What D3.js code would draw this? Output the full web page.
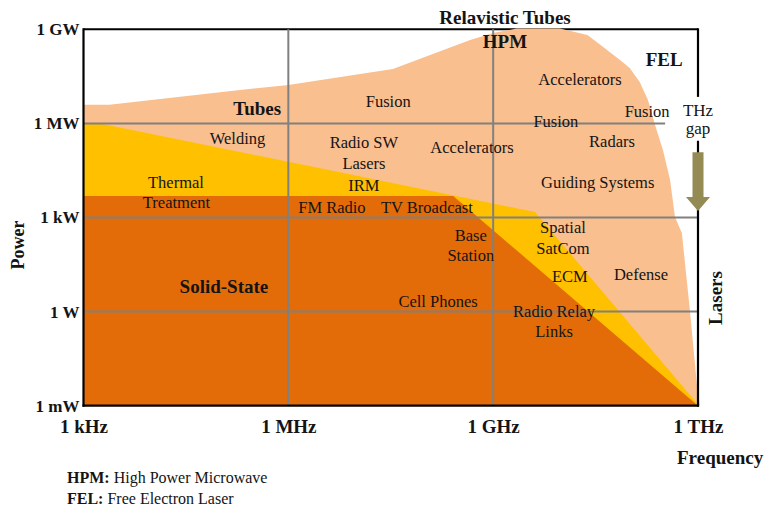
<!DOCTYPE html>
<html>
<head>
<meta charset="utf-8">
<script src="https://cdn.jsdelivr.net/npm/d3@7"></script>
<style>
  html, body { margin: 0; padding: 0; background: #fff; }
  svg { display: block; font-family: "Liberation Serif", "DejaVu Serif", serif; }
</style>
</head>
<body>
<svg id="chart" width="764" height="510"></svg>
<script>
// Axis ticks
const freqTicks = [1e3, 1e6, 1e9, 1e12];
const freqLabels = ["1 kHz", "1 MHz", "1 GHz", "1 THz"];
const powerTicks = [1e-3, 1, 1e3, 1e6, 1e9];
const powerLabels = ["1 mW", "1 W", "1 kW", "1 MW", "1 GW"];

// Upper envelope of each technology region: [frequency Hz, power W]
const tubesEdge = [
  [1e3, 3.9e6], [2.4e3, 3.9e6], [1.96e5, 1.16e7], [1e6, 1.67e7], [3.4e7, 5.4e7],
  [4.6e8, 4.6e8], [1e9, 7.6e8], [2.2e9, 1.06e9], [9.5e9, 1.06e9], [2.4e10, 6.6e8],
  [3.7e10, 3.2e8], [7.2e10, 1.05e8], [1.0e11, 5.8e7], [1.4e11, 2.1e7], [1.85e11, 5.6e6],
  [2.35e11, 8.9e5], [3.07e11, 1.4e5], [3.9e11, 1.57e4], [4.6e11, 1.04e3], [5.8e11, 3.2e2],
  [7.6e11, 1.13], [9.7e11, 4e-3], [1.07e12, 1e-3]
];
const thermalEdge = [[1e3, 1e6], [1.75e3, 1e6], [4.1e9, 1.5e3], [1e12, 1.1e-3]];
const solidStateEdge = [[1e3, 4.85e3], [2.6e8, 4.85e3], [1e12, 1e-3]];

// Application labels: [text, frequency Hz, power W at baseline]
const appLabels = [
  ["Fusion", 2.9e7, 3.3e6], ["Welding", 1.8e5, 2.2e5], ["Radio SW", 1.28e7, 1.64e5],
  ["Lasers", 1.28e7, 3.5e4], ["IRM", 1.28e7, 7.2e3], ["Accelerators", 4.9e8, 1.14e5],
  ["Thermal", 2.26e4, 8.7e3], ["Treatment", 2.3e4, 2.0e3], ["FM Radio", 4.35e6, 1.43e3],
  ["TV Broadcast", 1.07e8, 1.43e3], ["Accelerators", 1.87e10, 1.67e7], ["Fusion", 8.3e9, 7.9e5],
  ["Fusion", 1.8e11, 1.6e6], ["Radars", 5.5e10, 1.77e5], ["Guiding Systems", 3.4e10, 8.7e3],
  ["Base", 4.7e8, 178], ["Station", 4.7e8, 41], ["Spatial", 1.05e10, 321],
  ["SatCom", 1.05e10, 69], ["ECM", 1.33e10, 9.0], ["Defense", 1.46e11, 10.2],
  ["Cell Phones", 1.56e8, 1.43], ["Radio Relay", 7.8e9, 0.69], ["Links", 7.8e9, 0.16]
];
// Region titles in bold: [text, frequency Hz, power W at baseline]
const regionTitles = [
  ["Tubes", 3.5e5, 1.85e6], ["Solid-State", 1.14e5, 3.9], ["HPM", 1.49e9, 2.5e8],
  ["FEL", 3.2e11, 6.8e7]
];

const svg = d3.select("#chart");
const x = d3.scaleLog().domain([1e3, 1e12]).range([83.5, 698]);
const y = d3.scaleLog().domain([1e-3, 1e9]).range([405.7, 29.3]);
const ink = "#141414";

// top border sits under the tube envelope
svg.append("line")
  .attr("x1", x(1e3)).attr("x2", x(1e12))
  .attr("y1", y(1e9)).attr("y2", y(1e9))
  .attr("stroke", "#000").attr("stroke-width", 2);

const area = d3.area()
  .x(d => x(d[0]))
  .y0(y(1e-3))
  .y1(d => y(d[1]));

svg.append("path").datum(tubesEdge).attr("d", area).attr("fill", "#F9BF8F");
svg.append("path").datum(thermalEdge).attr("d", area).attr("fill", "#FFC000");
svg.append("path").datum(solidStateEdge).attr("d", area).attr("fill", "#E36C09");

// grid
const grid = svg.append("g").attr("stroke", "#808080").attr("stroke-width", 2);
[[1e6, 3.3e11], [1e3, 1e12], [1, 1e12]].forEach(([p, fEnd]) => {
  grid.append("line")
    .attr("x1", x(1e3)).attr("x2", x(fEnd))
    .attr("y1", y(p)).attr("y2", y(p));
});
[1e6, 1e9].forEach(f => {
  grid.append("line")
    .attr("x1", x(f)).attr("x2", x(f))
    .attr("y1", y(1e9)).attr("y2", y(1e-3));
});

// frame
const frame = svg.append("g").attr("stroke", "#000").attr("stroke-width", 2.2);
frame.append("line").attr("x1", x(1e3)).attr("x2", x(1e3)).attr("y1", y(1e9) - 1).attr("y2", y(1e-3) + 1);
frame.append("line").attr("x1", x(1e3) - 1).attr("x2", x(1e12) + 1).attr("y1", y(1e-3)).attr("y2", y(1e-3));
frame.append("line").attr("x1", x(1e12)).attr("x2", x(1e12)).attr("y1", y(1e9) - 1).attr("y2", y(7e6));
frame.append("line").attr("x1", x(1e12)).attr("x2", x(1e12)).attr("y1", y(2.8e5)).attr("y2", y(1e-3) + 1);

// THz gap arrow
const ax = x(1e12), aTop = y(1.2e5), aNeck = y(4.5e3), aTip = y(1.6e3);
svg.append("path")
  .attr("d", `M${ax - 5.5},${aTop} L${ax + 5.5},${aTop} L${ax + 5.5},${aNeck} L${ax + 12},${aNeck}
              L${ax},${aTip} L${ax - 12},${aNeck} L${ax - 5.5},${aNeck} Z`)
  .attr("fill", "#948A54");

// axes
const xAxis = svg.append("g")
  .attr("transform", `translate(0,${y(1e-3)})`)
  .call(d3.axisBottom(x).tickValues(freqTicks).tickFormat((d, i) => freqLabels[i]).tickSize(0).tickPadding(14));
const yAxis = svg.append("g")
  .attr("transform", `translate(${x(1e3)},0)`)
  .call(d3.axisLeft(y).tickValues(powerTicks).tickFormat((d, i) => powerLabels[i]).tickSize(0).tickPadding(4));
[xAxis, yAxis].forEach(g => {
  g.select(".domain").remove();
  g.selectAll("text")
    .attr("fill", ink)
    .attr("font-family", "Liberation Serif, serif")
    .attr("font-weight", "bold");
});
xAxis.selectAll("text").attr("font-size", 19);
yAxis.selectAll("text").attr("font-size", 17);

// axis titles
svg.append("text").attr("x", 677).attr("y", 464)
  .attr("font-size", 19).attr("font-weight", "bold").attr("fill", ink).text("Frequency");
svg.append("text").attr("transform", "translate(24,245) rotate(-90)")
  .attr("text-anchor", "middle").attr("font-size", 18).attr("font-weight", "bold").attr("fill", ink).text("Power");
svg.append("text").attr("transform", "translate(722,298) rotate(-90)")
  .attr("text-anchor", "middle").attr("font-size", 19).attr("font-weight", "bold").attr("fill", ink).text("Lasers");
svg.append("text").attr("x", 505).attr("y", 24)
  .attr("text-anchor", "middle").attr("font-size", 19).attr("font-weight", "bold").attr("fill", ink).text("Relavistic Tubes");

// THz gap label
svg.append("text").attr("x", x(1e12)).attr("y", 116)
  .attr("text-anchor", "middle").attr("font-size", 17).attr("fill", ink).text("THz");
svg.append("text").attr("x", x(1e12)).attr("y", 134)
  .attr("text-anchor", "middle").attr("font-size", 17).attr("fill", ink).text("gap");

// labels inside the regions
svg.append("g").selectAll("text").data(appLabels).join("text")
  .attr("x", d => x(d[1])).attr("y", d => y(d[2]))
  .attr("text-anchor", "middle").attr("font-size", 16.5).attr("fill", ink)
  .text(d => d[0]);
svg.append("g").selectAll("text").data(regionTitles).join("text")
  .attr("x", d => x(d[1])).attr("y", d => y(d[2]))
  .attr("text-anchor", "middle").attr("font-size", 19).attr("font-weight", "bold").attr("fill", ink)
  .text(d => d[0]);

// abbreviations
const notes = [["HPM:", " High Power Microwave"], ["FEL:", " Free Electron Laser"]];
notes.forEach(([abbr, full], i) => {
  const t = svg.append("text").attr("x", 67).attr("y", 483 + i * 21)
    .attr("font-size", 16).attr("fill", ink);
  t.append("tspan").attr("font-weight", "bold").text(abbr);
  t.append("tspan").attr("xml:space", "preserve").text(full);
});
</script>
</body>
</html>
